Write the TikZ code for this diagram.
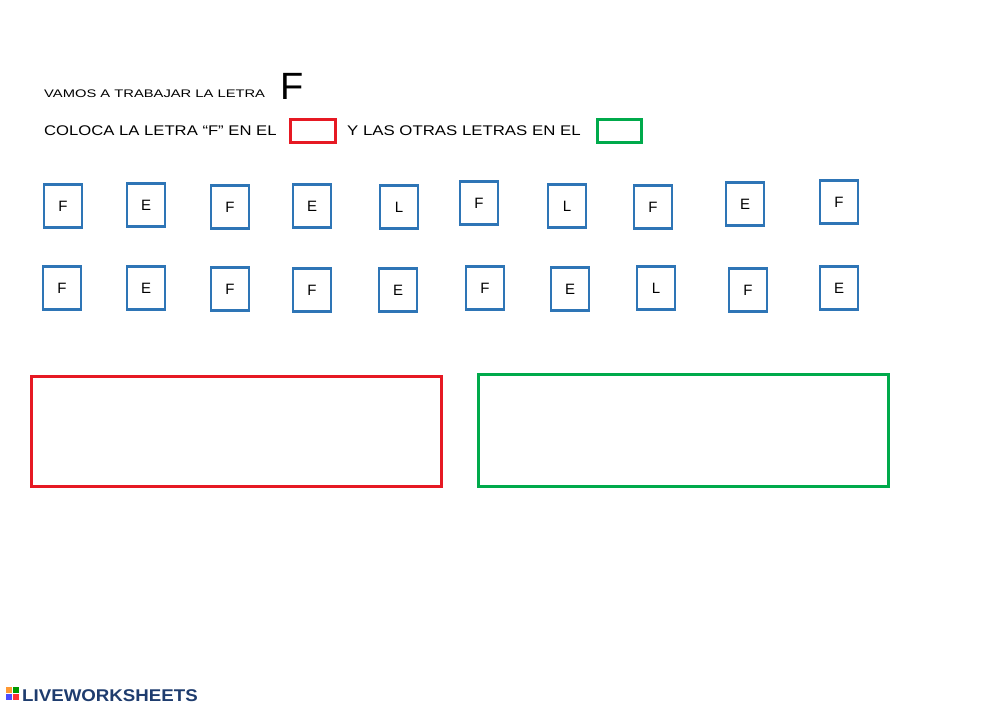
\documentclass[tikz,border=0pt]{standalone}
\usepackage{fontspec}
\setmainfont{Liberation Sans}
\definecolor{bb}{RGB}{46,117,182}
\definecolor{rr}{RGB}{230,25,35}
\definecolor{gg}{RGB}{0,170,75}
\definecolor{lw}{RGB}{30,60,110}
\begin{document}
\begin{tikzpicture}[x=1pt,y=-1pt,
 lb/.style={draw=bb,line width=2.2pt,minimum width=38pt,minimum height=43pt,inner sep=0pt,font=\fontsize{15}{15}\selectfont},
 txt/.style={anchor=base west,inner sep=0pt}]
\useasboundingbox (0,0) rectangle (1000,707);
\node[txt,font=\fontsize{11}{11}\selectfont] (t1) at (44,97) {\scalebox{1.34}[1]{VAMOS A TRABAJAR LA LETRA}};
\node[txt,font=\fontsize{38}{38}\selectfont] (bigf) at (280,99) {F};
\node[txt,font=\fontsize{14}{14}\selectfont] (t2) at (44,135) {\scalebox{1.19}[1]{COLOCA LA LETRA “F” EN EL}};
\node[draw=rr,line width=3pt,minimum width=45pt,minimum height=23pt,inner sep=0pt] (sr) at (312.5,130.5) {};
\node[txt,font=\fontsize{14}{14}\selectfont] (t3) at (347,135) {\scalebox{1.2}[1]{Y LAS OTRAS LETRAS EN EL}};
\node[draw=gg,line width=3pt,minimum width=44pt,minimum height=23pt,inner sep=0pt] (sg) at (619,130.5) {};
\foreach \x/\y/\l [count=\i] in {63/206/F,146/205/E,230/207/F,312/206/E,399/207/L,479/203/F,567/206/L,653/207/F,745/204/E,839/202/F}
  \node[lb] (a\i) at (\x,\y) {\l};
\foreach \x/\y/\l [count=\i] in {62/288/F,146/288/E,230/289/F,312/290/F,398/290/E,485/288/F,570/289/E,656/288/L,748/290/F,839/288/E}
  \node[lb] (b\i) at (\x,\y) {\l};
\node[draw=rr,line width=2.5pt,minimum width=410pt,minimum height=110pt,inner sep=0pt] (br) at (236.5,431.5) {};
\node[draw=gg,line width=2.5pt,minimum width=410pt,minimum height=112pt,inner sep=0pt] (bg) at (683.5,430.5) {};
\node[txt,font=\bfseries\fontsize{17}{17}\selectfont,text=lw] (logo) at (22,701) {\scalebox{1.1}[1]{LIVEWORKSHEETS}};
\fill[orange!80] (6,687) rectangle (12,693);
\fill[green!60!black] (13,687) rectangle (19,693);
\fill[blue!70] (6,694) rectangle (12,700);
\fill[red!80] (13,694) rectangle (19,700);
\end{tikzpicture}
\end{document}
